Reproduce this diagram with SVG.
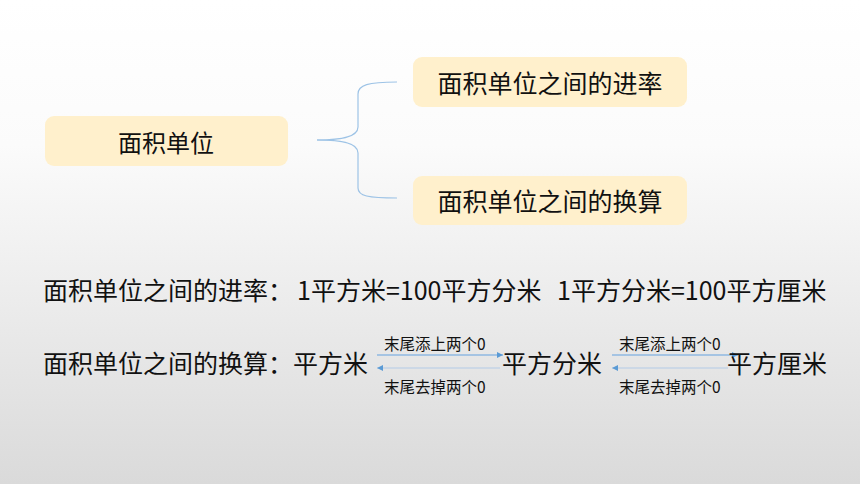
<svg xmlns="http://www.w3.org/2000/svg" width="860" height="484" viewBox="0 0 860 484">
<defs>
<linearGradient id="bg" x1="0" y1="0" x2="0" y2="1">
<stop offset="0" stop-color="#ffffff"/>
<stop offset="0.3" stop-color="#fbfbfb"/>
<stop offset="1" stop-color="#dadada"/>
</linearGradient>
<marker id="ah" viewBox="0 0 6 6" refX="6" refY="3" markerWidth="6" markerHeight="6" markerUnits="userSpaceOnUse" orient="auto-start-reverse">
<path d="M0,0 L6,3 L0,6 Z" fill="#5b9bd5"/>
</marker>
<style>
.box{fill:#fff0cc;}
.t{font-family:"Microsoft YaHei","Noto Sans CJK SC",sans-serif;fill:#111111;}
.big{font-size:24px;}
.main{font-size:25px;}
.sm{font-size:15.5px;}
.brace{fill:none;stroke:#9dc3e6;stroke-width:1.2;}
.arr{stroke-width:1.3;fill:none;}
</style>
</defs>
<rect width="860" height="484" fill="url(#bg)"/>
<g id="connectors">
<path class="brace" d="M317,140 C338,140 358,138 358,127 L358,94 C358,85 368,82 397,82"/>
<path class="brace" d="M317,140 C338,140 358,142 358,153 L358,188 C358,196 368,198 397,198"/>
<line class="arr" x1="377" y1="355" x2="503" y2="355" stroke="#8fb8e2" marker-end="url(#ah)"/>
<line class="arr" x1="500" y1="368" x2="377" y2="368" stroke="#c3d3e6" marker-end="url(#ah)"/>
<line class="arr" x1="612" y1="355" x2="738" y2="355" stroke="#8fb8e2" marker-end="url(#ah)"/>
<line class="arr" x1="728" y1="368" x2="612" y2="368" stroke="#c3d3e6" marker-end="url(#ah)"/>
</g>
<g id="node-root">
<rect class="box" x="45" y="116" width="243" height="50" rx="9"/>
<text class="t big" x="166" y="141" text-anchor="middle" dominant-baseline="central">面积单位</text>
</g>
<g id="node-rate">
<rect class="box" x="413" y="57" width="274" height="50" rx="9"/>
<text class="t main" x="550" y="82" text-anchor="middle" dominant-baseline="central">面积单位之间的进率</text>
</g>
<g id="node-convert">
<rect class="box" x="413" y="176" width="274" height="49" rx="9"/>
<text class="t main" x="550" y="200" text-anchor="middle" dominant-baseline="central">面积单位之间的换算</text>
</g>
<g id="rate-line">
<text class="t main" x="43" y="289" dominant-baseline="central">面积单位之间的进率：<tspan x="297">1平方米=100平方分米</tspan><tspan x="557">1平方分米=100平方厘米</tspan></text>
</g>
<g id="convert-line">
<text class="t main" x="43" y="362" dominant-baseline="central">面积单位之间的换算：平方米</text>
<text class="t main" x="502" y="362" dominant-baseline="central">平方分米</text>
<text class="t main" x="727" y="362" dominant-baseline="central">平方厘米</text>
<text class="t sm" x="384" y="343" dominant-baseline="central">末尾添上两个0</text>
<text class="t sm" x="384" y="386" dominant-baseline="central">末尾去掉两个0</text>
<text class="t sm" x="619" y="343" dominant-baseline="central">末尾添上两个0</text>
<text class="t sm" x="619" y="386" dominant-baseline="central">末尾去掉两个0</text>
</g>
</svg>
